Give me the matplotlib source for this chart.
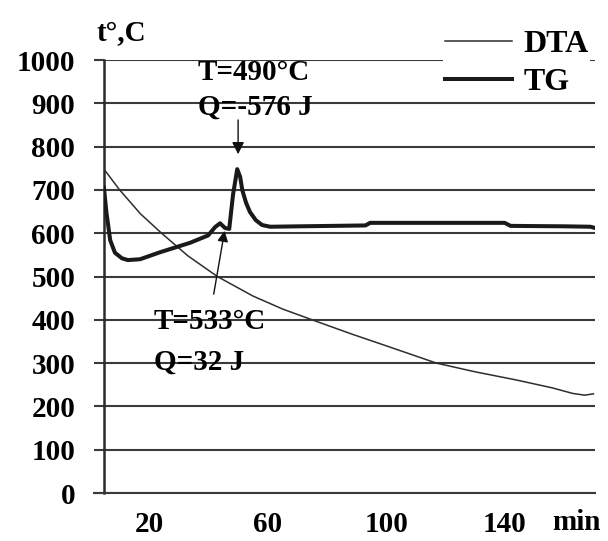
import matplotlib
matplotlib.use("Agg")
import matplotlib.pyplot as plt

plt.rcParams["font.family"] = ["Liberation Serif", "DejaVu Serif"]
plt.rcParams["font.weight"] = "bold"

# DTA curve (thin)
dta_t = [4.7, 10, 17, 24, 33, 43, 55, 65, 75, 88, 100, 117, 130, 144, 156, 163, 167, 170]
dta_v = [748, 700, 645, 601, 548, 500, 455, 425, 400, 368, 340, 300, 280, 261, 243, 230, 226, 229]

# TG curve (thick)
tg_t = [4.7, 5.5, 6.8, 8.4, 10.8, 12.8, 16.9, 23.6, 33.8, 39.9, 42.2, 43.9, 45.6, 47.0,
        48.3, 49.7, 50.7, 51.4, 52.7, 54.0, 56.0, 58.1, 60.8, 71, 93, 94.6, 120, 140, 142,
        160, 169, 170.6]
tg_v = [705, 650, 584, 555, 542, 538, 540, 556, 578, 595, 614, 623, 612, 610,
        690, 748, 730, 700, 670, 649, 630, 619, 615, 616, 618, 624, 624, 624, 617,
        616, 615, 612]

y_ticks = [0, 100, 200, 300, 400, 500, 600, 700, 800, 900, 1000]
x_ticks = [20, 60, 100, 140]

fig = plt.figure(figsize=(6.08, 5.41), dpi=100)
ax = fig.add_axes([0.171, 0.0887, 0.808, 0.8003])

ax.plot(dta_t, dta_v, color="#2e2e2e", lw=1.1, label="DTA", zorder=3)
ax.plot(tg_t, tg_v, color="#1a1a1a", lw=2.9, label="TG", zorder=4)

ax.set_xlim(4.7, 170.6)
ax.set_ylim(0, 1000)
ax.set_yticks(y_ticks)
ax.set_xticks(x_ticks)
ax.grid(axis="y", color="#3a3a3a", lw=1.5)
ax.set_axisbelow(True)
for s in ["top", "right"]:
    ax.spines[s].set_visible(False)
ax.spines["left"].set_linewidth(1.8)
ax.spines["left"].set_color("#2a2a2a")
ax.spines["bottom"].set_linewidth(1.5)
ax.spines["bottom"].set_color("#3a3a3a")
ax.tick_params(axis="y", length=7.2, width=1.5, color="#3a3a3a", pad=13.5, labelsize=21)
ax.tick_params(axis="x", length=0, pad=13, labelsize=21)
for lab in ax.get_xticklabels() + ax.get_yticklabels():
    lab.set_fontweight("bold")

# extend bottom line to the left like the gridlines
ax.plot([-0.02, 0], [0, 0], transform=ax.transAxes, color="#3a3a3a", lw=1.5, clip_on=False)

ax.text(-0.015, 1.062, "t°,C", transform=ax.transAxes, fontsize=21, fontweight="bold",
        ha="left", va="center")
ax.text(0.962, -0.068, "min", transform=ax.transAxes, fontsize=21, fontweight="bold",
        ha="center", va="center")

# annotations
ax.annotate("", xy=(50, 776), xytext=(50, 868),
            arrowprops=dict(arrowstyle="-|>", color="#111111", lw=1.0, mutation_scale=18))
ax.text(55.4, 972, "T=490°C", fontsize=21, fontweight="bold", ha="center", va="center")
ax.text(55.7, 891, "Q=-576 J", fontsize=21, fontweight="bold", ha="center", va="center")

ax.annotate("", xy=(45.6, 612), xytext=(41.6, 453),
            arrowprops=dict(arrowstyle="-|>", color="#111111", lw=1.0, mutation_scale=16))
ax.text(21.6, 395, "T=533°C", fontsize=21, fontweight="bold", ha="left", va="center")
ax.text(21.6, 302, "Q=32 J", fontsize=21, fontweight="bold", ha="left", va="center")

leg = ax.legend(loc="upper right", bbox_to_anchor=(1.022, 1.11), frameon=True,
                handlelength=2.1, handletextpad=0.35, labelspacing=0.25, borderpad=0.05,
                prop={"weight": "bold", "size": 23})
leg.get_frame().set_facecolor("white")
leg.get_frame().set_edgecolor("none")
leg.get_frame().set_alpha(1.0)
leg.set_zorder(10)

fig.savefig("out.png", dpi=100)
